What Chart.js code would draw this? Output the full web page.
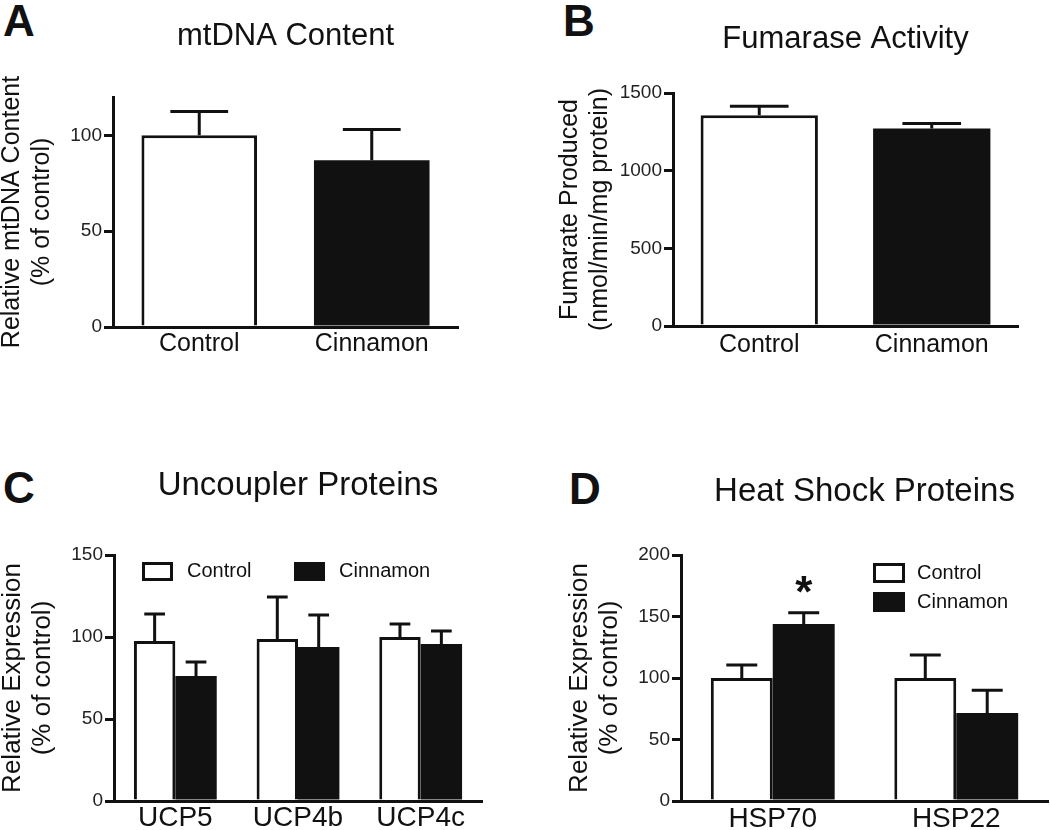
<!DOCTYPE html>
<html>
<head>
<meta charset="utf-8">
<script src="https://cdn.jsdelivr.net/npm/chart.js@4/dist/chart.umd.min.js"></script>
<style>
  html, body { margin: 0; padding: 0; background: #ffffff; }
  #page { position: relative; width: 1050px; height: 830px; overflow: hidden; background: #ffffff; }
  canvas { position: absolute; }
  .letter { position: absolute; font-family: 'Liberation Sans', Arial, sans-serif; font-weight: bold; font-size: 44px; line-height: 44px; color: #111; }
</style>
</head>
<body>
<div id="page">
  <div class="letter" style="left:3px; top:-1px;">A</div>
  <div class="letter" style="left:563px; top:-1px;">B</div>
  <div class="letter" style="left:3px; top:466px;">C</div>
  <div class="letter" style="left:569px; top:467px;">D</div>
  <canvas id="cA" width="520" height="380" style="left:0px; top:0px;"></canvas>
  <canvas id="cB" width="530" height="380" style="left:520px; top:0px;"></canvas>
  <canvas id="cC" width="520" height="380" style="left:0px; top:450px;"></canvas>
  <canvas id="cD" width="530" height="380" style="left:520px; top:450px;"></canvas>
</div>
<script>
// ---------------- DATA ----------------
const seriesNames = ['Control', 'Cinnamon'];

const panelATitle = 'mtDNA Content';
const panelACategories = ['Control', 'Cinnamon'];
const panelAValues = [100, 87];
const panelAErrors = [12.4, 16];
const panelATicks = [0, 50, 100];

const panelBTitle = 'Fumarase Activity';
const panelBCategories = ['Control', 'Cinnamon'];
const panelBValues = [1357, 1271];
const panelBErrors = [58, 32];
const panelBTicks = [0, 500, 1000, 1500];

const panelCTitle = 'Uncoupler Proteins';
const panelCCategories = ['UCP5', 'UCP4b', 'UCP4c'];
const panelCControl = [97.6, 98.8, 100];
const panelCControlErr = [16.4, 25.6, 7.9];
const panelCCinnamon = [76.2, 93.9, 95.7];
const panelCCinnamonErr = [8.6, 19.5, 8];
const panelCTicks = [0, 50, 100, 150];

const panelDTitle = 'Heat Shock Proteins';
const panelDCategories = ['HSP70', 'HSP22'];
const panelDControl = [100, 100];
const panelDControlErr = [10.6, 18.7];
const panelDCinnamon = [144, 71.5];
const panelDCinnamonErr = [9, 18.5];
const panelDCinnamonSig = ['*', ''];
const panelDTicks = [0, 50, 100, 150, 200];

// ---------------- STYLE ----------------
const INK = '#111111';
const FONT = "'Liberation Sans', Arial, sans-serif";

const errorBarPlugin = {
  id: 'errorBars',
  afterDatasetsDraw(chart) {
    const ctx = chart.ctx;
    const yScale = chart.scales.y;
    chart.data.datasets.forEach((ds, i) => {
      if (!ds.errors) return;
      const meta = chart.getDatasetMeta(i);
      meta.data.forEach((bar, j) => {
        const p = bar.getProps(['x', 'y', 'width'], true);
        const top = yScale.getPixelForValue(ds.data[j] + ds.errors[j]);
        const half = p.width / 4;
        ctx.save();
        ctx.strokeStyle = INK;
        ctx.lineWidth = 3;
        ctx.lineCap = 'butt';
        ctx.beginPath();
        ctx.moveTo(p.x, p.y);
        ctx.lineTo(p.x, top);
        ctx.moveTo(p.x - half, top);
        ctx.lineTo(p.x + half, top);
        ctx.stroke();
        if (ds.significance && ds.significance[j]) {
          ctx.fillStyle = INK;
          ctx.font = 'bold 44px ' + FONT;
          ctx.textAlign = 'center';
          ctx.textBaseline = 'alphabetic';
          ctx.fillText(ds.significance[j], p.x, top - 6);
        }
        ctx.restore();
      });
    });
  }
};

const boxLegendPlugin = {
  id: 'boxLegend',
  defaults: { show: false },
  afterDraw(chart, args, opts) {
    if (!opts.show) return;
    const ctx = chart.ctx;
    const area = chart.chartArea;
    chart.data.datasets.forEach((ds, i) => {
      const bx = area.left + opts.x + i * opts.dx;
      const by = area.top + opts.y + i * opts.dy;
      ctx.save();
      ctx.fillStyle = ds.backgroundColor;
      ctx.fillRect(bx, by, opts.boxW, opts.boxH);
      ctx.strokeStyle = INK;
      ctx.lineWidth = 3;
      ctx.strokeRect(bx + 1.5, by + 1.5, opts.boxW - 3, opts.boxH - 3);
      ctx.fillStyle = INK;
      ctx.font = opts.fontSize + 'px ' + FONT;
      ctx.textAlign = 'left';
      ctx.textBaseline = 'middle';
      ctx.fillText(ds.label, bx + opts.boxW + opts.gap, by + opts.boxH / 2);
      ctx.restore();
    });
  }
};

function makeChart(id, cfg) {
  const yTicksList = cfg.ticks;
  return new Chart(document.getElementById(id), {
    type: 'bar',
    data: { labels: cfg.labels, datasets: cfg.datasets },
    options: {
      responsive: false,
      animation: false,
      devicePixelRatio: 1,
      layout: { padding: { left: 0, top: 0, right: cfg.padRight, bottom: 0 } },
      plugins: {
        legend: { display: false },
        tooltip: { enabled: false },
        title: {
          display: true,
          text: cfg.title,
          fullSize: false,
          color: INK,
          font: { family: FONT, size: cfg.titleSize, weight: 'normal', lineHeight: 1.2 },
          padding: { top: cfg.titlePadTop, bottom: cfg.titlePadBottom }
        },
        boxLegend: cfg.legend || { show: false }
      },
      scales: {
        x: {
          grid: { display: false, drawTicks: false },
          border: { display: true, color: INK, width: 3 },
          ticks: { color: INK, padding: cfg.xPad, font: { family: FONT, size: cfg.xFontSize, lineHeight: 1.2 }, maxRotation: 0 },
          afterFit: (s) => { s.height = cfg.xHeight; }
        },
        y: {
          min: 0,
          max: cfg.max,
          grid: { display: true, drawOnChartArea: false, drawTicks: true, tickLength: 9, lineWidth: 3, color: INK },
          border: { display: true, color: INK, width: 3 },
          ticks: {
            color: '#222222', padding: 2, stepSize: cfg.step, includeBounds: false,
            font: { family: FONT, size: 19 },
            callback: (v) => String(v)
          },
          afterBuildTicks: (s) => { s.ticks = yTicksList.map(v => ({ value: v })); },
          title: {
            display: true,
            text: cfg.yTitle,
            color: INK,
            font: { family: FONT, size: cfg.yTitleSize, lineHeight: cfg.yTitleLH },
            padding: { top: cfg.yTitlePad, bottom: 0 }
          },
          afterFit: (s) => { s.width = cfg.yWidth; }
        }
      }
    },
    plugins: [errorBarPlugin, boxLegendPlugin]
  });
}

// Panel A
makeChart('cA', {
  title: panelATitle, titleSize: 31, titlePadTop: 17.4, titlePadBottom: 42.4,
  labels: panelACategories,
  datasets: [{
    label: 'mtDNA', data: panelAValues, errors: panelAErrors,
    backgroundColor: ['#ffffff', INK], borderColor: INK, borderWidth: [3, 0],
    barPercentage: 0.67, categoryPercentage: 1.0
  }],
  ticks: panelATicks, max: 120, step: 50,
  yTitle: ['Relative mtDNA Content', '(% of control)'], yTitleSize: 25, yTitleLH: 1.2, yTitlePad: -2.5,
  yWidth: 113, padRight: 62, xHeight: 53, xPad: 2, xFontSize: 25
});

// Panel B
makeChart('cB', {
  title: panelBTitle, titleSize: 31, titlePadTop: 20.4, titlePadBottom: 35.4,
  labels: panelBCategories,
  datasets: [{
    label: 'Fumarase', data: panelBValues, errors: panelBErrors,
    backgroundColor: ['#ffffff', INK], borderColor: INK, borderWidth: [3, 0],
    barPercentage: 0.68, categoryPercentage: 1.0
  }],
  ticks: panelBTicks, max: 1500, step: 500,
  yTitle: ['Fumarate Produced', '(nmol/min/mg protein)'], yTitleSize: 25, yTitleLH: 1.2, yTitlePad: 35,
  yWidth: 153, padRight: 32, xHeight: 54, xPad: 4, xFontSize: 25
});

// Panel C
makeChart('cC', {
  title: panelCTitle, titleSize: 33, titlePadTop: 16.2, titlePadBottom: 49.2,
  labels: panelCCategories,
  datasets: [
    { label: seriesNames[0], data: panelCControl, errors: panelCControlErr,
      backgroundColor: '#ffffff', borderColor: INK, borderWidth: 3,
      barPercentage: 1.0, categoryPercentage: 0.675 },
    { label: seriesNames[1], data: panelCCinnamon, errors: panelCCinnamonErr,
      backgroundColor: INK, borderColor: INK, borderWidth: 0,
      barPercentage: 1.0, categoryPercentage: 0.675 }
  ],
  ticks: panelCTicks, max: 150, step: 50,
  yTitle: ['Relative Expression', '(% of control)'], yTitleSize: 26, yTitleLH: 1.15, yTitlePad: -2.5,
  yWidth: 114, padRight: 38, xHeight: 29, xPad: 0, xFontSize: 28,
  legend: { show: true, x: 28, y: 7, dx: 152, dy: 0, boxW: 31, boxH: 19, gap: 14, fontSize: 20 }
});

// Panel D
makeChart('cD', {
  title: panelDTitle, titleSize: 33, titlePadTop: 21.7, titlePadBottom: 43.7,
  labels: panelDCategories,
  datasets: [
    { label: seriesNames[0], data: panelDControl, errors: panelDControlErr,
      backgroundColor: '#ffffff', borderColor: INK, borderWidth: 3,
      barPercentage: 1.0, categoryPercentage: 0.675 },
    { label: seriesNames[1], data: panelDCinnamon, errors: panelDCinnamonErr, significance: panelDCinnamonSig,
      backgroundColor: INK, borderColor: INK, borderWidth: 0,
      barPercentage: 1.0, categoryPercentage: 0.675 }
  ],
  ticks: panelDTicks, max: 200, step: 50,
  yTitle: ['Relative Expression', '(% of control)'], yTitleSize: 26, yTitleLH: 1.15, yTitlePad: 45,
  yWidth: 161, padRight: 2, xHeight: 29, xPad: 1, xFontSize: 28,
  legend: { show: true, x: 192, y: 8, dx: 0, dy: 29, boxW: 32, boxH: 20, gap: 12, fontSize: 20 }
});
</script>
</body>
</html>
